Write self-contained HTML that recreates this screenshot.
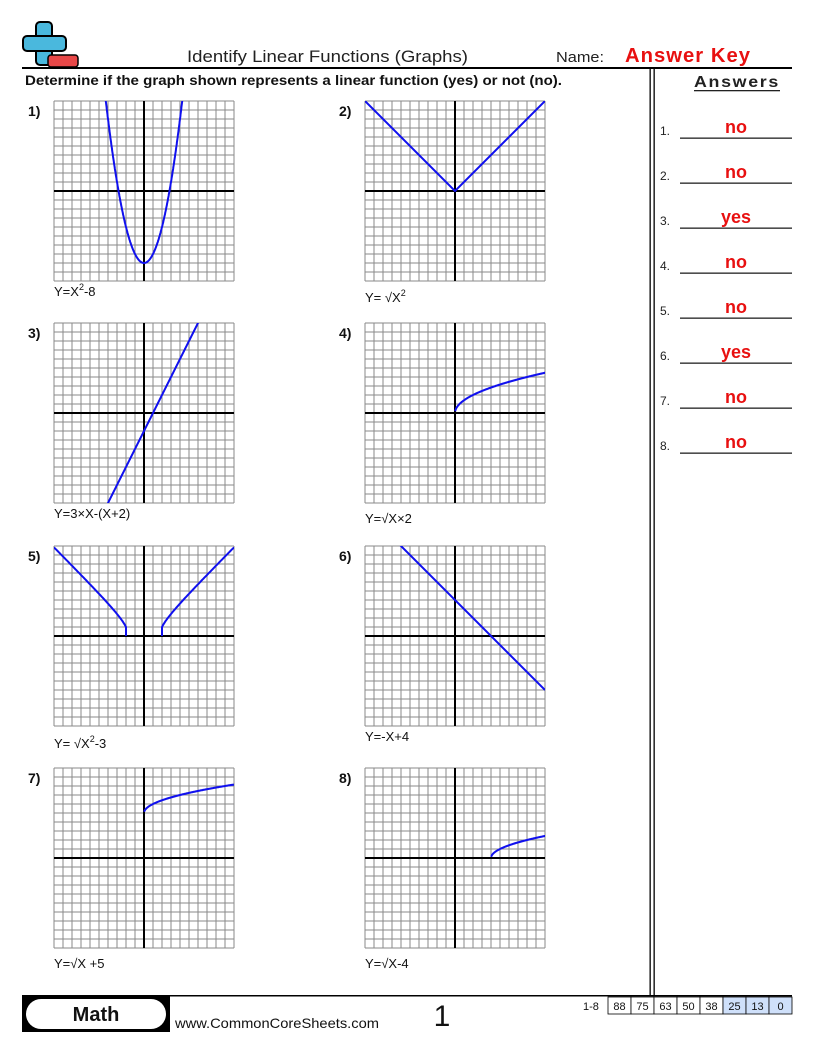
<!DOCTYPE html>
<html><head><meta charset="utf-8"><style>
body{margin:0;background:#fff;}
svg{display:block;font-family:"Liberation Sans",sans-serif;}
</style></head><body>
<svg id="s" width="816" height="1056" viewBox="0 0 816 1056" xmlns="http://www.w3.org/2000/svg">
<!-- logo -->
<rect x="36" y="22" width="16" height="43" rx="4" fill="#4ab8dd" stroke="#000" stroke-width="2"/>
<rect x="23" y="36" width="43" height="15" rx="4" fill="#4ab8dd" stroke="#000" stroke-width="2"/>
<rect x="37" y="37" width="14" height="13" fill="#4ab8dd"/>
<rect x="48" y="55" width="30" height="12" rx="3" fill="#e84848" stroke="#000" stroke-width="1.5"/>
<text x="187" y="62" font-size="17" textLength="281" lengthAdjust="spacingAndGlyphs" fill="#222">Identify Linear Functions (Graphs)</text>
<text x="556" y="62" font-size="15" textLength="48" lengthAdjust="spacingAndGlyphs" fill="#222">Name:</text>
<text x="625" y="62" font-size="20" font-weight="bold" fill="#e81010" letter-spacing="1" textLength="126" lengthAdjust="spacingAndGlyphs">Answer Key</text>
<rect x="22" y="67" width="770" height="2" fill="#000"/>
<text x="25" y="85" font-size="14" font-weight="bold" fill="#111" textLength="537" lengthAdjust="spacingAndGlyphs">Determine if the graph shown represents a linear function (yes) or not (no).</text>
<text x="694" y="87" font-size="16" font-weight="bold" fill="#222" letter-spacing="1.5" textLength="86" lengthAdjust="spacingAndGlyphs">Answers</text>
<rect x="694" y="90" width="86" height="1.3" fill="#222"/>
<rect x="649.5" y="69" width="1.3" height="927" fill="#000"/>
<rect x="653.5" y="69" width="1.3" height="927" fill="#000"/>
<g id="ans"></g>
<g id="graphs"></g>
<!-- footer -->
<rect x="22" y="995" width="770" height="1.5" fill="#000"/>
<rect x="22" y="996" width="148" height="36" fill="#000"/>
<rect x="26" y="999" width="140" height="30" rx="15" fill="#fff"/>
<text x="96" y="1021" font-size="20" font-weight="bold" text-anchor="middle" fill="#111">Math</text>
<text x="175" y="1028" font-size="14" fill="#111" textLength="204" lengthAdjust="spacingAndGlyphs">www.CommonCoreSheets.com</text>
<text x="442" y="1026" font-size="30" text-anchor="middle" fill="#111">1</text>
<text x="583" y="1010" font-size="11" fill="#111">1-8</text>
<g id="score"></g>
</svg>
<script>
var NS="http://www.w3.org/2000/svg",s=document.getElementById('s');
function el(p,t,a,txt){var e=document.createElementNS(NS,t);for(var k in a)e.setAttribute(k,a[k]);if(txt!=null)e.textContent=txt;document.getElementById(p).appendChild(e);return e;}
var A=["no","no","yes","no","no","yes","no","no"];
for(var i=0;i<8;i++){var y=138+45*i;
el('ans','text',{x:660,y:y-3,'font-size':12,fill:'#222'},(i+1)+'.');
el('ans','rect',{x:680,y:y-0.5,width:112,height:1.3,fill:'#222'});
el('ans','text',{x:736,y:y-5,'font-size':18,'font-weight':'bold','text-anchor':'middle',fill:'#e81010'},A[i]);}
var sc=["88","75","63","50","38","25","13","0"];
for(var i=0;i<8;i++){var x=608+23*i;
el('score','rect',{x:x,y:997,width:23,height:17,fill:i>=5?'#cfe0fa':'#fff',stroke:'#000','stroke-width':0.8});
el('score','text',{x:x+11.5,y:1010,'font-size':11,'text-anchor':'middle',fill:'#111'},sc[i]);}
var X0=[54,365],Y0=[101,323,546,768];
var F=[
 function(x){return x*x-8},
 function(x){return Math.abs(x)},
 function(x){return 2*x-2},
 function(x){return x>=0?Math.sqrt(2*x):NaN},
 null,
 function(x){return -x+4},
 function(x){return x>=0?Math.sqrt(x)+5:NaN},
 function(x){return x>=4?Math.sqrt(x-4):NaN}];
var L=[["Y=X","2","-8"],["Y= √X","2",""],["Y=3×X-(X+2)"],["Y=√X×2"],["Y= √X","2","-3"],["Y=-X+4"],["Y=√X  +5"],["Y=√X-4"]];
var LY=[296,302,518,523,748,741,968,968];
for(var n=0;n<8;n++){
 var gx=X0[n%2],gy=Y0[Math.floor(n/2)],cx=gx+90,cy=gy+90;
 var d='';
 for(var k=0;k<=20;k++){d+='M'+(gx+9*k)+' '+gy+'V'+(gy+180)+'M'+gx+' '+(gy+9*k)+'H'+(gx+180);}
 el('graphs','path',{d:d,stroke:'#8a8a8a','stroke-width':1,fill:'none'});
 el('graphs','path',{d:'M'+gx+' '+cy+'H'+(gx+180)+'M'+cx+' '+gy+'V'+(gy+180),stroke:'#000','stroke-width':2,fill:'none'});
 el('graphs','text',{x:gx-26,y:gy+15,'font-size':14,'font-weight':'bold',fill:'#111'},(n+1)+')');
 var p='';
 if(n==4){
  var a=[];
  for(var x=-10;x<=-2.001;x+=0.1){a.push([x,Math.sqrt(x*x-3)]);}
  a.push([-2,1]);a.push([-2,0]);
  p='M'+a.map(function(q){return (cx+9*q[0]).toFixed(1)+' '+(cy-9*q[1]).toFixed(1)}).join('L');
  p+='M'+a.slice().reverse().map(function(q){return (cx-9*q[0]).toFixed(1)+' '+(cy-9*q[1]).toFixed(1)}).join('L');
 } else {
  var started=false;
  for(var x=-10;x<=10.0001;x+=0.02){var y=F[n](x);
   if(isNaN(y)||y>10.2||y<-10.2){started=false;continue;}
   p+=(started?'L':'M')+(cx+9*x).toFixed(1)+' '+(cy-9*y).toFixed(1);started=true;}
 }
 var cp=el('graphs','clipPath',{id:'c'+n});
 var r=document.createElementNS(NS,'rect');r.setAttribute('x',gx);r.setAttribute('y',gy);r.setAttribute('width',180);r.setAttribute('height',180);cp.appendChild(r);
 el('graphs','path',{d:p,stroke:'#1010ee','stroke-width':2,fill:'none','clip-path':'url(#c'+n+')'});
 var t=el('graphs','text',{x:gx,y:LY[n],'font-size':13,fill:'#111'});
 var l=L[n];
 var t1=document.createElementNS(NS,'tspan');t1.textContent=l[0];t.appendChild(t1);
 if(l.length>1){var t2=document.createElementNS(NS,'tspan');t2.setAttribute('dy','-6');t2.setAttribute('font-size','9');t2.textContent=l[1];t.appendChild(t2);
  if(l[2]){var t3=document.createElementNS(NS,'tspan');t3.setAttribute('dy','6');t3.textContent=l[2];t.appendChild(t3);}}
}
</script>
</body></html>
